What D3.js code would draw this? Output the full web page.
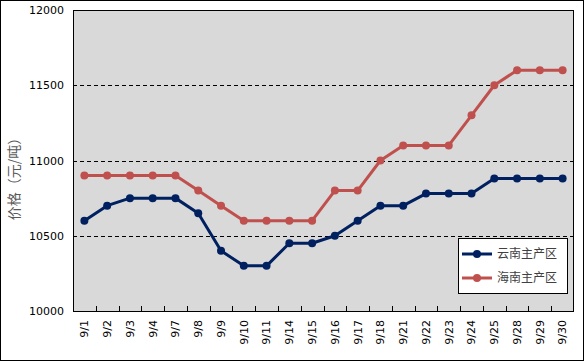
<!DOCTYPE html>
<html>
<head>
<meta charset="utf-8">
<script src="https://cdn.jsdelivr.net/npm/d3@7"></script>
<style>
  body { margin: 0; background: #fff; }
  svg { display: block; }
</style>
</head>
<body>
<svg id="chart" width="585" height="362"></svg>
<script>
// data
const dates = ["9/1","9/2","9/3","9/4","9/7","9/8","9/9","9/10","9/11","9/14","9/15",
  "9/16","9/17","9/18","9/21","9/22","9/23","9/24","9/25","9/28","9/29","9/30"];
const yunnan = [10600,10700,10750,10750,10750,10650,10400,10300,10300,10450,10450,
  10500,10600,10700,10700,10780,10780,10780,10880,10880,10880,10880];
const hainan = [10900,10900,10900,10900,10900,10800,10700,10600,10600,10600,10600,
  10800,10800,11000,11100,11100,11100,11300,11500,11600,11600,11600];
const seriesNames = ["云南主产区","海南主产区"];
const yTicks = [10000,10500,11000,11500,12000];

const colors = ["#002060","#C0504D"];
const font = "'DejaVu Sans', sans-serif";

const svg = d3.select("#chart");
const pLeft = 73, pTop = 10, pRight = 574, pBottom = 311;

// outer border
svg.append("rect")
  .attr("x", 0.5).attr("y", 0.5)
  .attr("width", 583).attr("height", 360)
  .attr("fill", "#fff").attr("stroke", "#000");

var x = d3.scaleBand().domain(dates).range([pLeft, pRight]);
var y = d3.scaleLinear().domain([10000, 12000]).range([pBottom, pTop]);

// plot area
svg.append("rect")
  .attr("x", pLeft).attr("y", pTop)
  .attr("width", pRight - pLeft).attr("height", pBottom - pTop)
  .attr("fill", "#d9d9d9");

// dashed gridlines
svg.append("g").selectAll("line")
  .data(yTicks.filter(d => d > 10000 && d < 12000))
  .enter().append("line")
  .attr("x1", pLeft).attr("x2", pRight)
  .attr("y1", d => Math.round(y(d)) + 0.5).attr("y2", d => Math.round(y(d)) + 0.5)
  .attr("stroke", "#000").attr("stroke-dasharray", "4,3");

svg.append("rect")
  .attr("x", pLeft + 0.5).attr("y", pTop + 0.5)
  .attr("width", pRight - pLeft - 1).attr("height", pBottom - pTop)
  .attr("fill", "none").attr("stroke", "#000");

// y axis
var yAxis = d3.axisLeft(y).tickValues(yTicks).tickFormat(d3.format("d")).tickSize(0).tickPadding(9);
var gy = svg.append("g").attr("transform", "translate(" + pLeft + ",0)").call(yAxis);
gy.select(".domain").remove();
gy.selectAll("text").attr("font-family", font).attr("font-size", 11).attr("fill", "#000");

// x axis, ticks pointing inward between categories
var xAxis = d3.axisBottom(x).tickSize(0).tickPadding(0);
var gx = svg.append("g").attr("transform", "translate(0," + pBottom + ")").call(xAxis);
gx.select(".domain").remove();
gx.selectAll("text")
  .attr("font-family", font).attr("font-size", 11).attr("fill", "#000")
  .attr("transform", "rotate(-90)")
  .attr("text-anchor", "end")
  .attr("x", -9).attr("y", 0).attr("dy", "0.35em");

svg.append("g").selectAll("line")
  .data(dates.slice(1))
  .enter().append("line")
  .attr("x1", d => Math.round(x(d)) + 0.5).attr("x2", d => Math.round(x(d)) + 0.5)
  .attr("y1", pBottom).attr("y2", pBottom - 5)
  .attr("stroke", "#000");

// y title
svg.append("text")
  .attr("transform", "translate(19," + ((pTop + pBottom) / 2 + 15) + ") rotate(-90)")
  .attr("text-anchor", "middle")
  .attr("font-family", "'Noto Sans CJK SC', sans-serif")
  .attr("font-size", 14)
  .attr("fill", "#595959")
  .text("价格（元/吨）");

// series
var line = d3.line()
  .x((d, i) => x(dates[i]) + x.bandwidth() / 2)
  .y(d => y(d));

[yunnan, hainan].forEach(function(data, k) {
  svg.append("path")
    .datum(data)
    .attr("d", line)
    .attr("fill", "none")
    .attr("stroke", colors[k])
    .attr("stroke-width", 3)
    .attr("stroke-linejoin", "round");
  svg.append("g").selectAll("circle")
    .data(data)
    .enter().append("circle")
    .attr("cx", (d, i) => x(dates[i]) + x.bandwidth() / 2)
    .attr("cy", d => y(d))
    .attr("r", 4)
    .attr("fill", colors[k]);
});

// legend
var lg = svg.append("g").attr("transform", "translate(458,238)");
lg.append("rect")
  .attr("x", 0.5).attr("y", 0.5).attr("width", 109).attr("height", 55)
  .attr("fill", "#fff").attr("stroke", "#000");
seriesNames.forEach(function(name, k) {
  var yy = 16 + k * 24;
  lg.append("line")
    .attr("x1", 4).attr("x2", 34).attr("y1", yy).attr("y2", yy)
    .attr("stroke", colors[k]).attr("stroke-width", 3);
  lg.append("circle").attr("cx", 19).attr("cy", yy).attr("r", 4).attr("fill", colors[k]);
  lg.append("text")
    .attr("x", 39).attr("y", yy).attr("dy", "0.35em")
    .attr("font-family", "'Noto Sans CJK SC', sans-serif")
    .attr("font-size", 12).attr("fill", "#404040")
    .text(name);
});
</script>
</body>
</html>
